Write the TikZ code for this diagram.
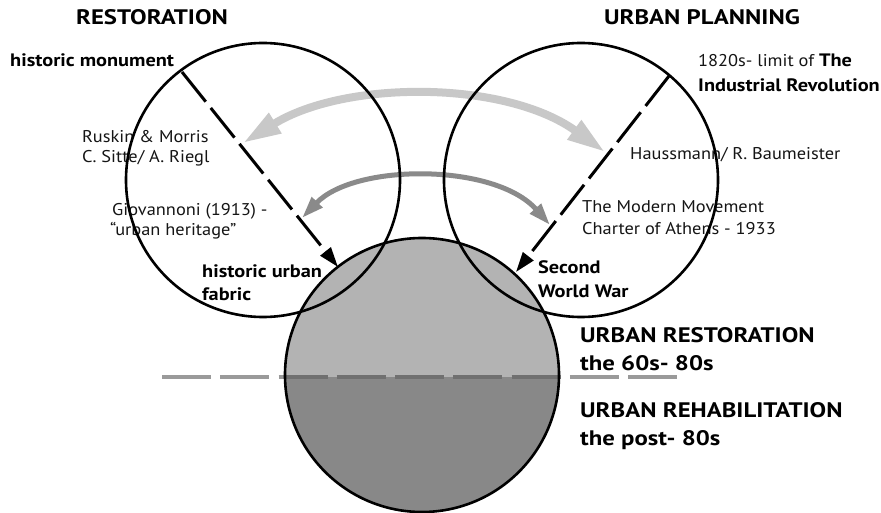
\documentclass[tikz,border=0pt]{standalone}
\usepackage{fontspec}
\setmainfont{PT Sans}
\newfontfamily\regf[FakeStretch=1.08]{PT Sans}
\newfontfamily\boldf[FakeStretch=1.13]{PT Sans}
\newfontfamily\headf[FakeStretch=1.18]{PT Sans}
\usetikzlibrary{arrows.meta}
\definecolor{fillup}{HTML}{B3B3B3}
\definecolor{filldown}{HTML}{888888}
\definecolor{arclight}{HTML}{C8C8C8}
\definecolor{arcdark}{HTML}{8A8A8A}
\definecolor{hdash}{HTML}{9A9A9A}
\definecolor{hdashin}{HTML}{707070}
\definecolor{txtgray}{HTML}{151515}
\begin{document}
\begin{tikzpicture}[x=1pt,y=-1pt,
  ring/.style={line width=2.6pt, draw=black},
  lbl/.style={anchor=base west, inner sep=0pt, text=txtgray, font=\regf\fontsize{17}{20}\selectfont},
  lblb/.style={anchor=base west, inner sep=0pt, text=black, font=\boldf\fontsize{18}{21}\selectfont\bfseries},
  head/.style={anchor=base, inner sep=0pt, font=\headf\fontsize{21}{24}\selectfont\bfseries},
  big/.style={anchor=base west, inner sep=0pt, font=\headf\fontsize{21}{24}\selectfont\bfseries},
  fdash/.style={line width=3pt, dash pattern=on 38pt off 8pt, -{Triangle[length=20pt,width=13pt]}},
  hline/.style={line width=4pt, dash pattern=on 49pt off 9.25pt},
]
\useasboundingbox[fill=white] (0,0) rectangle (881,513);

\coordinate (L) at (263,180);
\coordinate (R) at (581,180);
\coordinate (B) at (422,375);

% bottom circle fill
\fill[fillup] (B) circle (137);
\begin{scope}
  \clip (0,377) rectangle (881,513);
  \fill[filldown] (B) circle (137);
\end{scope}

% horizontal dashed line
\coordinate (hl) at (162,377);
\coordinate (hr) at (677,377);
\draw[hline, draw=hdash] (hl) -- (hr);
\begin{scope}
  \clip (B) circle (137);
  \draw[hline, draw=hdashin] (hl) -- (hr);
\end{scope}

% texts
\node[head] (t1) at (152,25) {RESTORATION};
\node[head] (t2) at (702,25) {URBAN PLANNING};
\node[lblb] (t3) at (10,67) {historic monument};
\node[lbl] (t4) at (82,143) {Ruskin \& Morris};
\node[lbl] (t5) at (82,163) {C. Sitte/ A. Riegl};
\node[lbl] (t6) at (112,216) {Giovannoni (1913) -};
\node[lbl] (t7) at (110,236) {“urban heritage”};
\node[lblb] (t8) at (202,277) {historic urban};
\node[lblb] (t9) at (202,300) {fabric};
\node[lbl] (t10) at (698,67) {1820s- limit of {\boldf\fontsize{18}{21}\selectfont\bfseries\color{black}The}};
\node[lblb] (t11) at (698,92) {Industrial Revolution};
\node[lbl] (t12) at (630,160) {Haussmann/ R. Baumeister};
\node[lbl] (t13) at (582,213) {The Modern Movement};
\node[lbl] (t14) at (582,235) {Charter of Athens - 1933};
\node[lblb] (t15) at (538,273) {Second};
\node[lblb] (t16) at (538,297) {World War};
\node[big] (t17) at (580,342) {URBAN RESTORATION};
\node[big] (t18) at (580,370) {the 60s- 80s};
\node[big] (t19) at (580,417) {URBAN REHABILITATION};
\node[big] (t20) at (580,445) {the post- 80s};

% arcs
\coordinate (al) at (243,143);
\coordinate (ar) at (605,152);
\draw[arclight, line width=8pt, {Triangle[length=38pt,width=22pt]}-{Triangle[length=38pt,width=22pt]}]
  (al) .. controls (345,80) and (505,80) .. (ar);
\coordinate (bl) at (302,218);
\coordinate (br) at (550,225);
\draw[arcdark, line width=5pt, {Triangle[length=22pt,width=14pt]}-{Triangle[length=22pt,width=14pt]}]
  (bl) .. controls (355,163) and (495,163) .. (br);

% circle outlines
\draw[ring] (L) circle (137);
\draw[ring] (R) circle (137);
\draw[ring] (B) circle (137);

% dashed arrows
\coordinate (lm) at (182,72);
\coordinate (lf) at (338,267);
\coordinate (rm) at (669,76);
\coordinate (rf) at (516,272);
\draw[fdash] (lm) -- (lf);
\draw[fdash] (rm) -- (rf);
\end{tikzpicture}
\end{document}
